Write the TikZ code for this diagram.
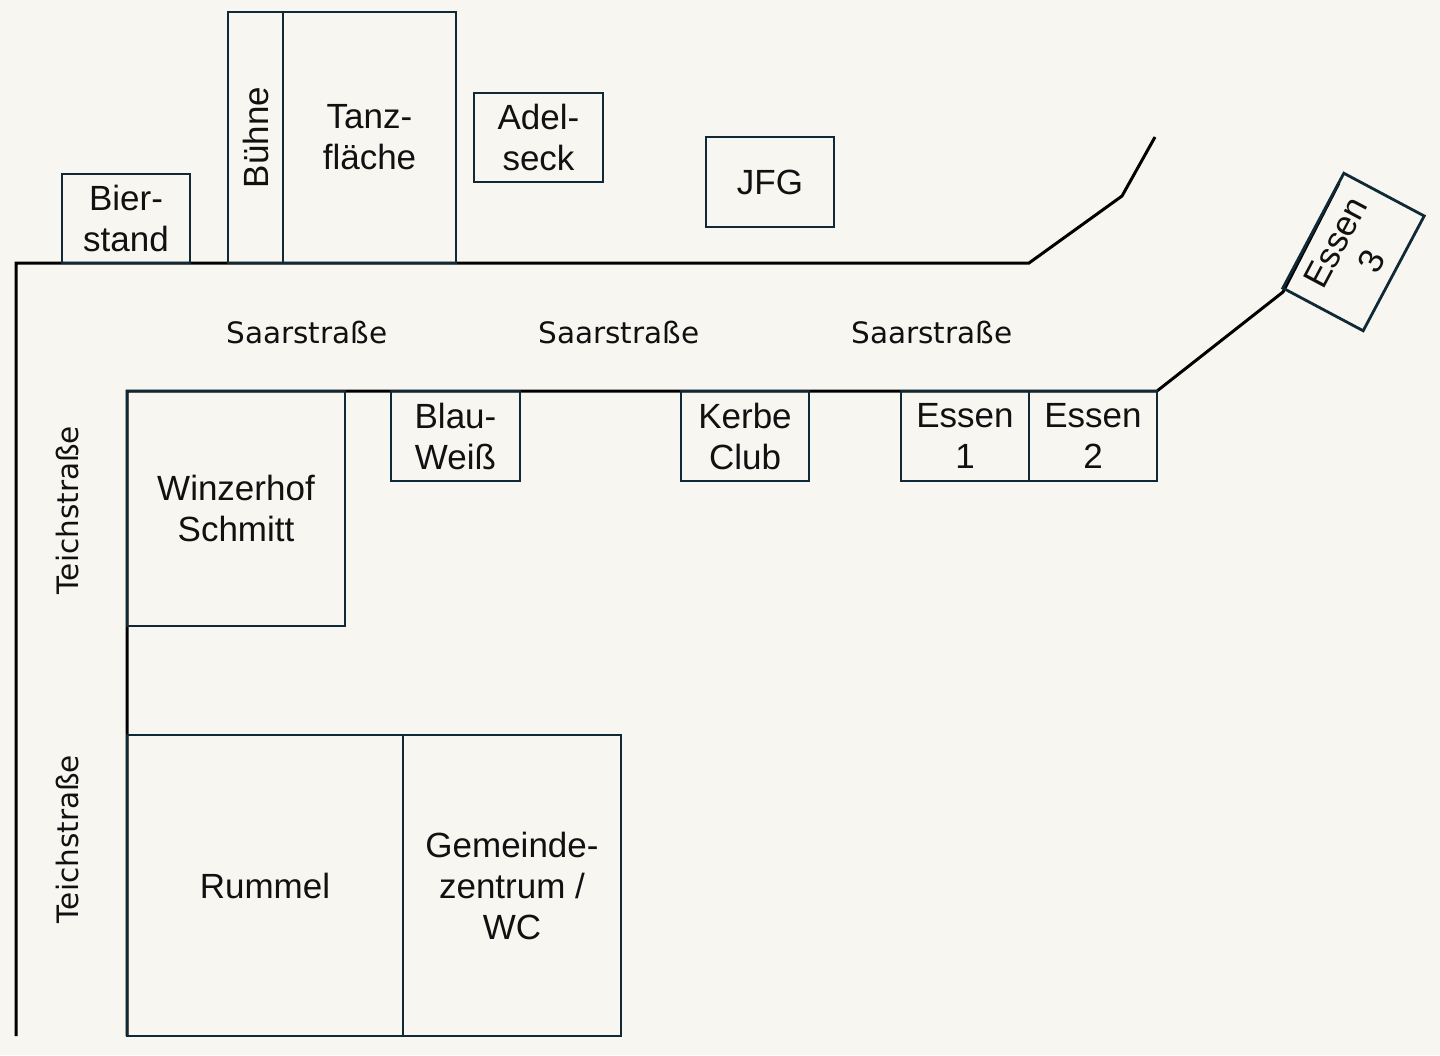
\documentclass[tikz,border=0pt]{standalone}
\usepackage{fontspec}
\setmainfont{Liberation Sans}
\newfontfamily\streetfont{DejaVu Sans}
\definecolor{bg}{HTML}{F8F6F0}
\definecolor{boxline}{HTML}{0F2A36}
\definecolor{ink}{HTML}{111111}
\begin{document}
\begin{tikzpicture}[x=1pt,y=-1pt,
  street/.style={line width=3pt, black, line join=miter},
  stall/.style={draw=boxline, line width=2.8pt, inner sep=0pt, align=center, text=ink,
                font=\fontsize{35}{41}\selectfont},
  streetlabel/.style={text=ink, inner sep=0pt, font=\streetfont\fontsize{29.5}{35}\selectfont}]
\fill[bg] (0,0) rectangle (1440,1055);
\useasboundingbox (0,0) rectangle (1440,1055);

% streets
\coordinate (tb) at (16,1036);
\coordinate (tc) at (16,263);
\coordinate (te) at (1029,263);
\coordinate (tk) at (1122,196);
\coordinate (tt) at (1155,137);
\draw[street] (tb) -- (tc) -- (te) -- (tk) -- (tt);

\coordinate (lb) at (127,1036);
\coordinate (lc) at (127,391);
\coordinate (le) at (1157,391);
\coordinate (lk) at (1283,292);
\coordinate (lt) at (1339,183);
\draw[street] (lb) -- (lc) -- (le) -- (lk) -- (lt);

% street labels
\node[streetlabel] (s1) at (307,332) {Saarstraße};
\node[streetlabel] (s2) at (619,332) {Saarstraße};
\node[streetlabel] (s3) at (932,332) {Saarstraße};
\node[streetlabel, rotate=90] (t1) at (68,510) {Teichstraße};
\node[streetlabel, rotate=90] (t2) at (68,839) {Teichstraße};

% stalls
\node[stall, minimum width=128pt, minimum height=89pt] (bier) at (126,218.5) {Bier-\\stand};
\node[stall, minimum width=251pt, minimum height=55pt, rotate=90] (buehne) at (255.5,137.5) {Bühne};
\node[stall, minimum width=173pt, minimum height=251pt] (tanz) at (369.5,137.5) {Tanz-\\fläche};
\node[stall, minimum width=129pt, minimum height=89pt] (adel) at (538.5,137.5) {Adel-\\seck};
\node[stall, minimum width=128pt, minimum height=90pt] (jfg) at (770,182) {JFG};
\node[stall, minimum width=218pt, minimum height=235pt] (winzer) at (236,508.5) {Winzerhof\\Schmitt};
\node[stall, minimum width=129pt, minimum height=90pt] (blau) at (455.5,436) {Blau-\\Weiß};
\node[stall, minimum width=128pt, minimum height=90pt] (kerbe) at (745,436) {Kerbe\\Club};
\node[stall, minimum width=128pt, minimum height=90pt] (essen1) at (965,436) {Essen\\1};
\node[stall, minimum width=128pt, minimum height=90pt] (essen2) at (1093,436) {Essen\\2};
\node[stall, minimum width=130pt, minimum height=91pt, rotate=62] (essen3) at (1353.5,252) {Essen\\3};
\node[stall, minimum width=276pt, minimum height=301pt] (rummel) at (265,885.5) {Rummel};
\node[stall, minimum width=218pt, minimum height=301pt] (gemeinde) at (512,885.5) {Gemeinde-\\zentrum /\\WC};
\end{tikzpicture}
\end{document}
